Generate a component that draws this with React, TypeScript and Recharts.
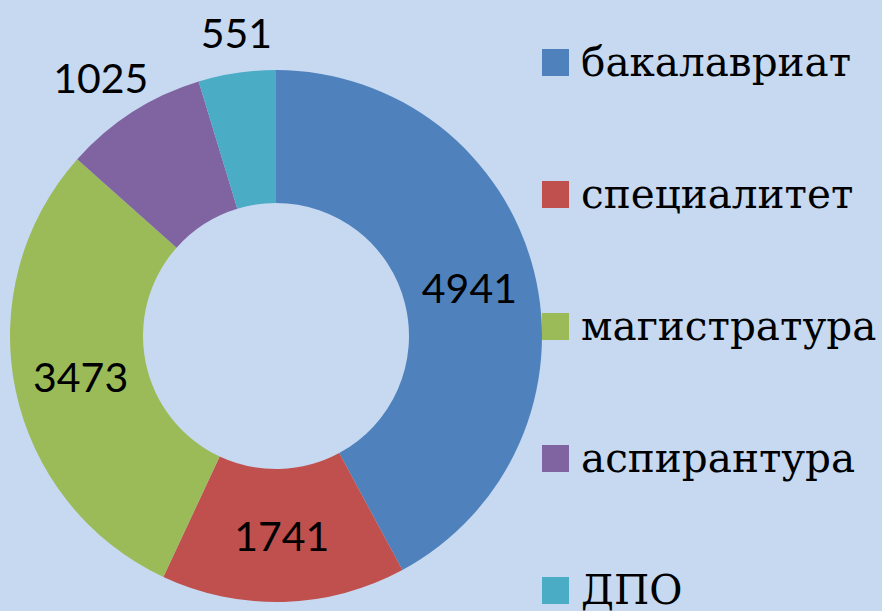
import React from "react";
import { PieChart, Pie, Cell, Legend } from "recharts";

const categories = ["бакалавриат", "специалитет", "магистратура", "аспирантура", "ДПО"];
const values = [4941, 1741, 3473, 1025, 551];
const colors = ["#4f81bd", "#c0504d", "#9bbb59", "#8064a2", "#4bacc6"];

const data = categories.map((name, i) => ({ name, value: values[i] }));

const RAD = Math.PI / 180;

const renderLabel = (props: any) => {
  const { cx, cy, midAngle, innerRadius, outerRadius, value, index } = props;
  const r = index < 3 ? (innerRadius + outerRadius) / 2 : outerRadius + 44;
  const x = cx + r * Math.cos(-midAngle * RAD) + (index === 3 ? -8 : index === 4 ? 6 : 0);
  const y = cy + r * Math.sin(-midAngle * RAD) + (index === 3 ? 3 : index === 4 ? 3 : 0);
  return (
    <text
      x={x}
      y={y}
      textAnchor="middle"
      dominantBaseline="central"
      fill="#000"
      fontFamily="Lato, 'Open Sans', sans-serif"
      fontSize={41}
    >
      {value}
    </text>
  );
};

const renderLegend = () => (
  <div style={{ position: "relative", width: 340, height: 611 }}>
    {categories.map((c, i) => (
      <div
        key={c}
        style={{
          position: "absolute",
          left: 0,
          top: 62 + i * 132 - 30,
          height: 60,
          display: "flex",
          alignItems: "center",
          whiteSpace: "nowrap",
        }}
      >
        <div style={{ width: 27, height: 27, background: colors[i], marginRight: 12 }} />
        <span style={{ fontFamily: "'DejaVu Serif', serif", fontSize: 40.5, color: "#000" }}>{c}</span>
      </div>
    ))}
  </div>
);

export default function App() {
  return (
    <div style={{ position: "absolute", left: 0, top: 0, width: 882, height: 611, background: "#c6d9f1", overflow: "hidden" }}>
      <PieChart width={882} height={611} margin={{ top: 0, right: 0, bottom: 0, left: 0 }}>
        <Pie
          data={data}
          dataKey="value"
          nameKey="name"
          cx={276}
          cy={336}
          innerRadius={133}
          outerRadius={266}
          startAngle={90}
          endAngle={-270}
          stroke="none"
          label={renderLabel}
          labelLine={false}
          isAnimationActive={false}
        >
          {data.map((d, i) => (
            <Cell key={d.name} fill={colors[i]} />
          ))}
        </Pie>
        <Legend
          layout="vertical"
          align="right"
          verticalAlign="top"
          content={renderLegend}
          wrapperStyle={{ position: "absolute", left: 542, top: 0, width: 340, height: 611 }}
        />
      </PieChart>
    </div>
  );
}
